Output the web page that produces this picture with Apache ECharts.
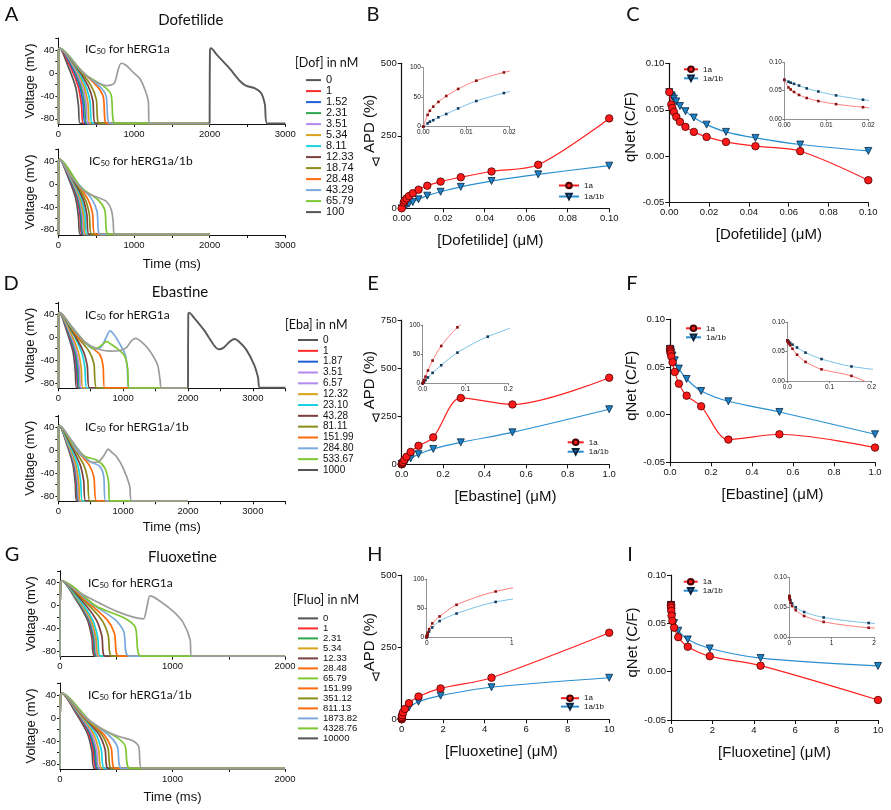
<!DOCTYPE html>
<html><head><meta charset="utf-8">
<script src="https://cdn.jsdelivr.net/npm/echarts@6/dist/echarts.min.js"></script>
<style>html,body{margin:0;padding:0;background:#fff}#c{width:891px;height:810px}</style>
</head><body><div id="c"></div>
<script>
// ---------------- DATA ----------------
const dofLabels = ['0','1','1.52','2.31','3.51','5.34','8.11','12.33','18.74','28.48','43.29','65.79','100'];
const ebaLabels = ['0','1','1.87','3.51','6.57','12.32','23.10','43.28','81.11','151.99','284.80','533.67','1000'];
const fluoLabels = ['0','1','2.31','5.34','12.33','28.48','65.79','151.99','351.12','811.13','1873.82','4328.76','10000'];

const dofConc = [0, 0.001, 0.00152, 0.00231, 0.00351, 0.00534, 0.00811, 0.01233, 0.01874, 0.02848, 0.04329, 0.06579, 0.1];
const dofApd1a = [0, 20, 27, 34, 42, 52, 64, 78, 92, 107, 127, 150, 310];
const dofApd1ab = [0, 5.6, 8.5, 11, 16, 21.5, 31, 43.5, 57, 74, 94, 117, 147];
const dofQnet1a = [0.069, 0.0556, 0.052, 0.0477, 0.0424, 0.037, 0.0316, 0.0262, 0.0208, 0.0154, 0.0108, 0.0054, -0.0258];
const dofQnet1ab = [0.069, 0.0657, 0.064, 0.062, 0.059, 0.054, 0.0485, 0.0416, 0.034, 0.0262, 0.0197, 0.0126, 0.0057];

const ebaConc = [0, 0.001, 0.00187, 0.00351, 0.00657, 0.01232, 0.0231, 0.04328, 0.08111, 0.15199, 0.2848, 0.53367, 1.0];
const ebaApd1a = [0, 1.7, 3, 5.7, 11.4, 22, 39, 64, 96, 140, 345, 311, 450];
const ebaApd1ab = [0, 0.7, 1.5, 3, 5.7, 10, 18, 31, 52.6, 80, 114, 166, 286];
const ebaQnet1a = [0.069, 0.0675, 0.066, 0.064, 0.061, 0.055, 0.0448, 0.0325, 0.0199, 0.0087, -0.0262, -0.0206, -0.0346];
const ebaQnet1ab = [0.069, 0.0685, 0.068, 0.067, 0.065, 0.062, 0.057, 0.0483, 0.0374, 0.0248, 0.014, 0.0028, -0.0206];

const fluoConc = [0, 0.001, 0.00231, 0.00534, 0.01233, 0.02848, 0.06579, 0.15199, 0.35112, 0.81113, 1.87382, 4.32876, 10];
const fluoApd1a = [0, 1, 2, 4, 8, 14, 24, 36, 56, 79, 107, 144, 300];
const fluoApd1ab = [0, 0.5, 1.2, 2.5, 5, 10, 17, 28, 41, 61, 82, 111, 144];
const fluoQnet1a = [0.069, 0.069, 0.068, 0.066, 0.063, 0.058, 0.0525, 0.0455, 0.0357, 0.0258, 0.016, 0.0062, -0.0293];
const fluoQnet1ab = [0.069, 0.069, 0.068, 0.067, 0.065, 0.062, 0.057, 0.0503, 0.0424, 0.0333, 0.024, 0.0141, 0.0059];

// Action potential traces: [time ms, voltage mV] points
const apStart = [[0,-88],[4,40],[18,43]];
const dofTraces1a = [
  [[129,12],[230,-25],[267,-58],[287,-88],[2000,-88]],
  [[149,14],[264,-24],[307,-56],[330,-88],[2000,-88]],
  [[160,16],[284,-23],[330,-55],[355,-88],[2000,-88]],
  [[169,17],[300,-23],[349,-54],[375,-88],[2000,-88]],
  [[178,17],[316,-22],[367,-53],[395,-88],[2000,-88]],
  [[189,17],[336,-22],[391,-52],[420,-88],[2000,-88]],
  [[203,16],[360,-22],[419,-50],[450,-88],[2000,-88]],
  [[221,14],[392,-22],[456,-48],[490,-88],[2000,-88]],
  [[243,11],[432,-22],[502,-46],[540,-88],[2000,-88]],
  [[288,6],[512,-23],[595,-42],[640,-88],[2000,-88]],
  [[306,3],[544,-23],[632,-40],[680,-88],[2000,-88]],
  [[338,-1],[600,-23],[698,-38],[750,-88],[2000,-88]],
  [[110,33],[243,13],[375,-5],[507,-16],[650,-22],[740,-18],[790,5],[830,17],[900,13],[990,1],[1080,-10],[1150,-31],[1190,-50],[1200,-88],[2000,-88]]
];
const dofSecondBeat = [[2000,-88],[2004,40],[2018,43],[2100,31],[2250,10],[2400,-14],[2480,-22],[2600,-27],[2680,-35],[2730,-55],[2760,-88],[3000,-88]];
const dofTraces1ab = [
  [[129,12],[230,-25],[267,-58],[287,-88],[2000,-88]],
  [[140,12],[248,-25],[288,-57],[310,-88],[2000,-88]],
  [[144,12],[256,-25],[298,-57],[320,-88],[2000,-88]],
  [[149,12],[264,-25],[307,-56],[330,-88],[2000,-88]],
  [[155,12],[276,-25],[321,-56],[345,-88],[2000,-88]],
  [[162,12],[288,-25],[335,-55],[360,-88],[2000,-88]],
  [[171,11],[304,-25],[353,-54],[380,-88],[2000,-88]],
  [[182,10],[324,-25],[377,-53],[405,-88],[2000,-88]],
  [[198,9],[352,-26],[409,-52],[440,-88],[2000,-88]],
  [[218,7],[388,-26],[451,-50],[485,-88],[2000,-88]],
  [[248,3],[440,-26],[512,-48],[550,-88],[2000,-88]],
  [[297,-6],[528,-28],[614,-45],[660,-88],[2000,-88]],
  [[150,16],[331,-11],[451,-20],[551,-25],[640,-31],[700,-45],[725,-65],[740,-88],[2000,-88]]
];
const ebaTraces1a = [
  [[127,12],[226,-25],[262,-58],[282,-88],[2000,-88]],
  [[137,13],[244,-25],[284,-57],[305,-88],[2000,-88]],
  [[142,13],[252,-25],[293,-57],[315,-88],[2000,-88]],
  [[149,13],[264,-25],[307,-56],[330,-88],[2000,-88]],
  [[158,13],[280,-25],[326,-56],[350,-88],[2000,-88]],
  [[171,13],[304,-24],[353,-54],[380,-88],[2000,-88]],
  [[198,12],[352,-24],[409,-52],[440,-88],[2000,-88]],
  [[216,10],[384,-24],[446,-50],[480,-88],[2000,-88]],
  [[266,4],[472,-24],[549,-46],[590,-88],[2000,-88]],
  [[322,-2],[560,-22],[640,-30],[690,-50],[715,-88],[2000,-88]],
  [[200,18],[400,-8],[540,-20],[650,-18],[740,0],[795,11],[850,6],[950,-12],[1030,-30],[1065,-55],[1080,-88],[2000,-88]],
  [[200,19],[400,-7],[560,-20],[680,-13],[744,-7],[800,-11],[900,-19],[1020,-32],[1070,-55],[1085,-88],[2000,-88]],
  [[200,20],[400,-7],[600,-20],[800,-24],[950,-23],[1050,-18],[1130,-6],[1195,-2],[1260,-6],[1400,-22],[1530,-48],[1570,-75],[1590,-88],[2000,-88]]
];
const ebaSecondBeat = [[2000,-88],[2004,40],[2018,43],[2100,33],[2250,12],[2400,-14],[2470,-21],[2550,-18],[2650,-7],[2720,-3],[2780,-7],[2900,-22],[3020,-48],[3080,-70],[3110,-88],[3500,-88]];
const ebaTraces1ab = [
  [[127,12],[226,-25],[262,-58],[282,-88],[2000,-88]],
  [[134,12],[238,-25],[277,-57],[298,-88],[2000,-88]],
  [[137,12],[244,-25],[284,-57],[305,-88],[2000,-88]],
  [[140,12],[250,-25],[290,-57],[312,-88],[2000,-88]],
  [[145,12],[258,-25],[299,-56],[322,-88],[2000,-88]],
  [[153,12],[272,-25],[316,-56],[340,-88],[2000,-88]],
  [[167,11],[298,-25],[346,-55],[372,-88],[2000,-88]],
  [[189,10],[336,-25],[391,-53],[420,-88],[2000,-88]],
  [[219,7],[390,-25],[453,-51],[487,-88],[2000,-88]],
  [[266,2],[472,-25],[549,-47],[590,-88],[2000,-88]],
  [[300,-3],[500,-20],[640,-28],[700,-45],[730,-88],[2000,-88]],
  [[200,16],[400,-10],[590,-17],[718,-31],[775,-55],[790,-88],[2000,-88]],
  [[200,18],[400,-12],[520,-21],[620,-20],[700,-10],[769,2],[820,-3],[897,-11],[1000,-31],[1100,-62],[1130,-88],[2000,-88]]
];
const fluoTraces1a = [
  [[137,12],[244,-25],[284,-57],[305,-88],[2000,-88]],
  [[142,12],[252,-25],[293,-57],[315,-88],[2000,-88]],
  [[144,12],[256,-25],[298,-57],[320,-88],[2000,-88]],
  [[146,12],[260,-25],[302,-56],[325,-88],[2000,-88]],
  [[151,13],[268,-25],[312,-56],[335,-88],[2000,-88]],
  [[155,13],[276,-25],[321,-56],[345,-88],[2000,-88]],
  [[162,13],[288,-24],[335,-55],[360,-88],[2000,-88]],
  [[180,12],[320,-24],[372,-53],[400,-88],[2000,-88]],
  [[207,10],[368,-24],[428,-51],[460,-88],[2000,-88]],
  [[234,8],[416,-24],[484,-48],[520,-88],[2000,-88]],
  [[275,4],[488,-24],[567,-45],[610,-88],[2000,-88]],
  [[324,-1],[576,-22],[670,-38],[720,-88],[2000,-88]],
  [[150,25],[356,4],[504,-10],[652,-20],[741,-23],[775,0],[800,17],[874,10],[1007,-10],[1096,-30],[1156,-59],[1170,-88],[2000,-88]]
];
const fluoTraces1ab = [
  [[137,10],[244,-27],[284,-58],[305,-88],[2000,-88]],
  [[144,10],[256,-27],[298,-58],[320,-88],[2000,-88]],
  [[149,10],[264,-27],[307,-57],[330,-88],[2000,-88]],
  [[153,10],[272,-27],[316,-57],[340,-88],[2000,-88]],
  [[158,10],[280,-27],[326,-57],[350,-88],[2000,-88]],
  [[167,9],[296,-27],[344,-56],[370,-88],[2000,-88]],
  [[178,8],[316,-27],[367,-55],[395,-88],[2000,-88]],
  [[194,5],[344,-28],[400,-54],[430,-88],[2000,-88]],
  [[207,3],[367,-28],[427,-53],[459,-88],[2000,-88]],
  [[220,1],[391,-29],[455,-52],[489,-88],[2000,-88]],
  [[247,-3],[438,-31],[510,-50],[548,-88],[2000,-88]],
  [[280,-8],[498,-33],[578,-48],[622,-88],[2000,-88]],
  [[207,5],[356,-17],[504,-31],[652,-40],[700,-50],[726,-88],[2000,-88]]
];

// ---------------- STYLE ----------------
const FA = '"Liberation Sans", Arial, sans-serif';
const FC = 'Lato, "Open Sans", sans-serif';
const INK = '#111';
const apColors = ['#555555','#ff2b2b','#1f5fd8','#2ea84f','#b388f0','#d9a21b','#19d3e0','#7b3f3f','#8b8b1a','#ff6a0a','#7aa9e0','#7dc832','#555555'];
const lastTraceColor = '#9c9c9c';
const RED = '#ff2020', BLUE = '#2a8fd0';

const grids = [], xAxes = [], yAxes = [], series = [], legends = [], graphics = [];

function addGrid(l, t, w, h) { grids.push({left: l, top: t, width: w, height: h}); return grids.length - 1; }

function apPanel(box, xmax, traces, names, secondBeat, timeGap) {
  const gi = addGrid(box[0], box[1], box[2], box[3]);
  xAxes.push({gridIndex: gi, type: 'value', min: 0, max: xmax, interval: 500,
    name: timeGap ? 'Time (ms)' : '', nameLocation: 'middle', nameGap: timeGap || 0,
    nameTextStyle: {fontFamily: FA, fontSize: 13, color: INK},
    axisLine: {onZero: false, lineStyle: {color: INK, width: 1}},
    axisTick: {length: 3, lineStyle: {color: INK}},
    axisLabel: {formatter: v => (v % 1000 === 0 ? String(v) : ''), fontFamily: FA, fontSize: 9.5, color: INK, margin: 5, showMaxLabel: true},
    splitLine: {show: false}});
  yAxes.push({gridIndex: gi, type: 'value', min: -89, max: 61,
    name: 'Voltage (mV)', nameLocation: 'middle', nameGap: 21,
    nameTextStyle: {fontFamily: FA, fontSize: 13, color: INK},
    axisLine: {onZero: false, lineStyle: {color: INK, width: 1}},
    axisTick: {length: 3, lineStyle: {color: INK}, customValues: [-80, -60, -40, -20, 0, 20, 40, 60]},
    axisLabel: {customValues: [-80, -40, 0, 40], fontFamily: FA, fontSize: 9.5, color: INK, margin: 4},
    splitLine: {show: false}});
  traces.forEach((tr, i) => {
    series.push({type: 'line', name: names[i], xAxisIndex: gi, yAxisIndex: gi,
      data: apStart.concat(tr), symbol: 'none', smooth: 0.25, silent: true,
      lineStyle: {width: 1.7, color: i === 12 ? lastTraceColor : apColors[i]},
      itemStyle: {color: apColors[i]}, z: 2});
  });
  if (secondBeat) {
    series.push({type: 'line', name: 'beat2', xAxisIndex: gi, yAxisIndex: gi, data: secondBeat,
      symbol: 'none', smooth: 0.25, silent: true, lineStyle: {width: 1.9, color: '#5a5a5a'}, z: 2});
  }
}

function valAxis(gi, min, max, interval, fmt, inset, name, nameGap, namePad) {
  return {gridIndex: gi, type: 'value', min, max, interval,
    name: name || '', nameLocation: 'middle', nameGap: nameGap || 0,
    nameTextStyle: {fontFamily: FA, fontSize: 15, color: INK, padding: namePad || 0},
    axisLine: {onZero: false, lineStyle: {color: inset ? '#777' : INK, width: inset ? 0.8 : 1.2}},
    axisTick: {length: inset ? 2 : 4, lineStyle: {color: inset ? '#777' : INK}},
    axisLabel: {formatter: fmt, fontFamily: FA, fontSize: inset ? 6.5 : 9.5, color: INK, margin: inset ? 2.5 : 5},
    splitLine: {show: false}};
}
const f0 = v => String(Math.round(v));
const f1 = v => v.toFixed(1);
const f2 = v => v.toFixed(2);

function pairs(c, v) { return c.map((x, i) => [x, v[i]]); }

function mainSeries(gi, conc, vals, is1a) {
  series.push({type: 'line', name: is1a ? '1a' : '1a/1b', xAxisIndex: gi, yAxisIndex: gi,
    data: pairs(conc, vals), smooth: 0.3, clip: true, silent: true,
    symbol: is1a ? 'circle' : 'triangle', symbolRotate: is1a ? 0 : 180, symbolSize: is1a ? 7.5 : 7,
    lineStyle: {width: 1.2, color: is1a ? RED : BLUE},
    itemStyle: {color: is1a ? '#ff1a1a' : '#1b82c6', borderColor: is1a ? '#4a0000' : '#0a2540', borderWidth: 0.8},
    z: is1a ? 4 : 3});
}
function insetSeries(gi, conc, vals, is1a) {
  series.push({type: 'line', name: is1a ? 'in1a' : 'in1ab', xAxisIndex: gi, yAxisIndex: gi,
    data: pairs(conc, vals), smooth: 0.3, clip: true, silent: true,
    symbol: 'rect', symbolSize: 2.6,
    lineStyle: {width: 1, color: is1a ? '#ff8080' : '#7cc3e8'},
    itemStyle: {color: is1a ? '#8b1010' : '#143a5a'}, z: 3});
}
function pairLegend(left, top, iw, lh) {
  legends.push({orient: 'vertical', left, top, padding: 0, itemGap: 0, itemWidth: iw, itemHeight: 7,
    selectedMode: false, data: ['1a', '1a/1b'],
    textStyle: {fontFamily: FA, fontSize: 8, color: INK, lineHeight: lh}});
}
function apLegend(left, top, iw, names, fs, lh) {
  legends.push({orient: 'vertical', left, top, padding: 0, itemGap: 0, itemWidth: iw, itemHeight: 2,
    icon: 'rect', selectedMode: false, data: names,
    textStyle: {fontFamily: FA, fontSize: fs, color: INK, lineHeight: lh}});
}

// ---------------- AP PANELS ----------------
apPanel([58.3, 38, 227, 86], 3000, dofTraces1a, dofLabels, dofSecondBeat, 0);
apPanel([58.3, 149, 227, 86], 3000, dofTraces1ab, dofLabels, null, 23);
apPanel([58.3, 302.3, 227, 86], 3500, ebaTraces1a, ebaLabels, ebaSecondBeat, 0);
apPanel([58.3, 415.3, 227, 86], 3500, ebaTraces1ab, ebaLabels, null, 20);
apPanel([60, 570.7, 225, 86], 2000, fluoTraces1a, fluoLabels, null, 0);
apPanel([60, 683, 225, 86], 2000, fluoTraces1ab, fluoLabels, null, 22);

apLegend(306, 74.6, 15, dofLabels, 11, 10.83);
apLegend(298, 334.6, 20, ebaLabels, 10, 10.83);
apLegend(298, 613.4, 20, fluoLabels, 9.5, 9.72);

// ---------------- DOSE-RESPONSE PANELS ----------------
function drPanel(mainBox, insetBox, conc, v1a, v1ab, xr, yr, ixr, iyr, xname, yname, xfmt, yfmt, ixfmt, iyfmt, xPad, yGap, yPad) {
  const gm = addGrid(...mainBox);
  xAxes.push(valAxis(gm, xr[0], xr[1], xr[2], xfmt, false, xname, 25, xPad));
  yAxes.push(valAxis(gm, yr[0], yr[1], yr[2], yfmt, false, yname, yGap, yPad));
  mainSeries(gm, conc, v1ab, false);
  mainSeries(gm, conc, v1a, true);
  const gi = addGrid(...insetBox);
  xAxes.push(valAxis(gi, ixr[0], ixr[1], ixr[2], ixfmt, true));
  yAxes.push(valAxis(gi, iyr[0], iyr[1], iyr[2], iyfmt, true));
  insetSeries(gi, conc, v1ab, false);
  insetSeries(gi, conc, v1a, true);
}
// B
drPanel([401.7, 63.3, 207.5, 145], [423.3, 67.7, 86, 59], dofConc, dofApd1a, dofApd1ab,
  [0, 0.1, 0.02], [0, 500, 250], [0, 0.02, 0.01], [0, 100, 50],
  '[Dofetilide] (μM)', 'APD (%)', f2, f0, f2, f0, [0, 30, 0, 0], 17, [0, 0, 0, 24]);
// C
drPanel([669.3, 63.3, 199, 139.4], [784.3, 62.3, 84, 56.7], dofConc, dofQnet1a, dofQnet1ab,
  [0, 0.1, 0.02], [-0.05, 0.1, 0.05], [0, 0.02, 0.01], [0, 0.1, 0.05],
  '[Dofetilide] (μM)', 'qNet (C/F)', f2, f2, f2, f2, 0, 28, [0, 0, 0, 12]);
// E
drPanel([401.7, 320, 207.5, 144.3], [422.7, 325, 85.6, 58.3], ebaConc, ebaApd1a, ebaApd1ab,
  [0, 1, 0.2], [0, 750, 250], [0, 0.2, 0.1], [0, 100, 50],
  '[Ebastine] (μM)', 'APD (%)', f1, f0, f1, f0, 0, 17, [0, 0, 0, 24]);
// F
drPanel([670, 319.3, 205, 143], [787.3, 322.3, 84.4, 58.7], ebaConc, ebaQnet1a, ebaQnet1ab,
  [0, 1, 0.2], [-0.05, 0.1, 0.05], [0, 0.2, 0.1], [0, 0.1, 0.05],
  '[Ebastine] (μM)', 'qNet (C/F)', f1, f2, f1, f2, 0, 28, [0, 0, 0, 10]);
// H
drPanel([401.7, 575, 207.5, 144.3], [426.7, 579.3, 85, 58], fluoConc, fluoApd1a, fluoApd1ab,
  [0, 10, 2], [0, 500, 250], [0, 1, 1], [0, 100, 50],
  '[Fluoxetine] (μM)', 'APD (%)', f0, f0, f0, f0, [0, 8, 0, 0], 17, [0, 0, 0, 10]);
// I
drPanel([671, 575, 207, 145], [789.3, 577.7, 84.7, 59.6], fluoConc, fluoQnet1a, fluoQnet1ab,
  [0, 10, 2], [-0.05, 0.1, 0.05], [0, 2, 1], [0, 0.1, 0.05],
  '[Fluoxetine] (μM)', 'qNet (C/F)', f0, f2, f0, f2, 0, 28, [0, 0, 0, 10]);

pairLegend(558, 180, 20, 11);
pairLegend(683, 64.8, 14, 9);
pairLegend(566.7, 437.6, 16, 9.4);
pairLegend(685, 323.8, 15, 9);
pairLegend(560, 694, 18, 8.4);
pairLegend(682.7, 577.2, 14, 9);

// ---------------- TEXT ----------------
function txt(x, y, text, size, family, align, extra) {
  graphics.push({type: 'text', x, y, silent: true, z: 10,
    style: Object.assign({text, fontSize: size, fontFamily: family, fill: INK, align: align || 'left', verticalAlign: 'middle'}, extra || {})});
}
[['A', 11.5, 15], ['B', 373, 15], ['C', 633, 15], ['D', 11, 284], ['E', 373, 284], ['F', 632, 284], ['G', 12, 555], ['H', 375, 555], ['I', 630, 555]]
  .forEach(p => txt(p[1], p[2], p[0], 20, FC, 'center'));
txt(190.8, 20, 'Dofetilide', 15, FC, 'center');
txt(180, 291.7, 'Ebastine', 15, FC, 'center');
txt(182.5, 556.7, 'Fluoxetine', 15, FC, 'center');
txt(295, 63.3, '[Dof] in nM', 12.5, FC);
txt(285, 325, '[Eba] in nM', 12.5, FC);
txt(293, 600, '[Fluo] in nM', 12.5, FC);
const icRich = {n: {fontSize: 12, fontFamily: FC, fill: INK}, s: {fontSize: 8, fontFamily: FC, fill: INK, verticalAlign: 'bottom', padding: [5, 0, 0, 0]}};
function ic(x, y, who) { txt(x, y, '{n|IC}{s|50}{n| for ' + who + '}', 12, FC, 'left', {rich: icRich}); }
ic(85, 49, 'hERG1a'); ic(89, 160.7, 'hERG1a/1b');
ic(85, 315, 'hERG1a'); ic(85, 427.3, 'hERG1a/1b');
ic(88, 583.3, 'hERG1a'); ic(88, 695, 'hERG1a/1b');
txt(376, 163, '∇', 12, FA, 'center');
txt(376, 419, '∇', 12, FA, 'center');
txt(376, 678, '∇', 12, FA, 'center');

const chart = echarts.init(document.getElementById('c'), null, {renderer: 'canvas', width: 891, height: 810});
chart.setOption({
  animation: false,
  backgroundColor: '#ffffff',
  grid: grids, xAxis: xAxes, yAxis: yAxes, series, legend: legends, graphic: graphics
});
</script></body></html>
